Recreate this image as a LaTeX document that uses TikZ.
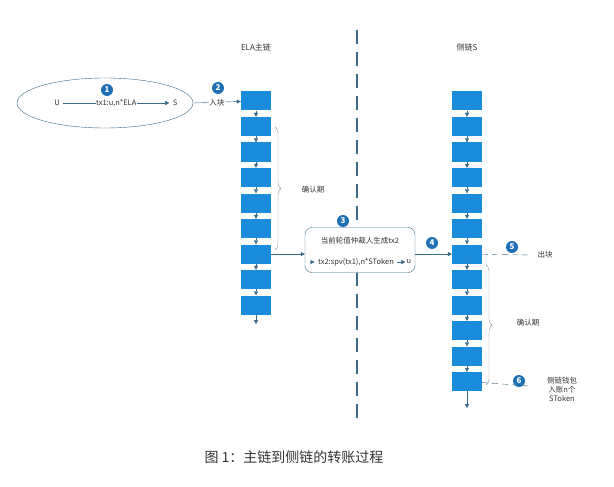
\documentclass[tikz,border=0pt]{standalone}
\usepackage{fontspec}
\setmainfont{Noto Sans CJK SC}
\usetikzlibrary{decorations.pathreplacing,arrows.meta}
\definecolor{blk}{HTML}{1B8BDB}
\definecolor{num}{HTML}{1F6FB5}
\definecolor{ln}{HTML}{3A6A8A}
\tikzset{x=1pt,y=-1pt,
 bk/.style={fill=blk,minimum width=30pt,minimum height=19pt,inner sep=0},
 nb/.style={circle,fill=num,text=white,inner sep=0,minimum size=12pt,font=\fontsize{8}{8}\selectfont\bfseries},
 lab/.style={font=\fontsize{7.5}{9}\selectfont,text=black!80,align=center},
 ar/.style={draw=ln,-{Triangle[length=4pt,width=4pt]}},
 dl/.style={draw=ln,dashed,dash pattern=on 6pt off 4pt}}
\begin{document}
\begin{tikzpicture}
\useasboundingbox (0,0) rectangle (614,487);
\fill[white] (0,0) rectangle (614,487);
\draw[ln,line width=1.2pt,dash pattern=on 14pt off 8pt] (357,30) -- (357,420);
\node[lab,font=\fontsize{8}{8}\selectfont] (t1) at (256,47) {ELA主链};
\node[lab,font=\fontsize{8}{8}\selectfont] (t2) at (467,47) {侧链S};
\foreach \i in {1,...,9}{\node[bk] (L\i) at (256,{101+25.5*(\i-1)}) {};}
\foreach \i [evaluate=\i as \j using int(\i+1)] in {1,...,8}{\draw[ar] (L\i) -- (L\j);}
\coordinate (Lend) at (256,324);
\draw[ar] (L9) -- (Lend);
\foreach \i in {1,...,12}{\node[bk] (R\i) at (467,{101+25.5*(\i-1)}) {};}
\foreach \i [evaluate=\i as \j using int(\i+1)] in {1,...,11}{\draw[ar] (R\i) -- (R\j);}
\coordinate (Rend) at (467,408);
\draw[ar] (R12) -- (Rend);
\draw[ln,thin] (105,103) ellipse (88 and 25);
\node[lab] (U) at (57,103) {U};
\node[lab] (S) at (175,103) {S};
\draw[ar] (U) -- node[lab,fill=white,inner sep=0.5pt]{tx1:u,n*ELA} (S);
\node[nb] (n1) at (107,90) {1};
\draw[ar] (193,103) -- node[lab,fill=white,inner sep=0.5pt]{入块} (L1);
\node[nb] (n2) at (218,88) {2};
\draw[black!40,decorate,decoration={brace,amplitude=6pt}] (275,127) -- (275,250);
\node[lab] (c1) at (313,190) {确认期};
\draw[black!40,decorate,decoration={brace,amplitude=6pt}] (486,265) -- (486,385);
\node[lab] (c2) at (528,323) {确认期};
\node[draw=ln,rounded corners=7pt,fill=white,minimum width=110pt,minimum height=45pt,lab] (box) at (360,250) {};
\node[lab] (bt) at (360,241) {当前轮值仲裁人生成tx2};
\coordinate (bl) at (310,262);
\node[lab] (bt2) at (356,262) {tx2:spv(tx1),n*SToken};
\draw[ar] (bl) -- (bt2.west);
\draw[ar] (bt2.east) -- ++(8,0) node[right,lab,inner sep=1pt]{u};
\node[nb] (n3) at (343,221) {3};
\draw[ar] (L7) -- (box.west |- L7);
\draw[ar] (box.east |- R7) -- (R7);
\node[nb] (n4) at (432,243) {4};
\coordinate (d5) at (530,255);
\draw[dl] (R7) -- (d5);
\node[lab] (o5) at (545,255) {出块};
\node[nb] (n5) at (512,247) {5};
\coordinate (d6) at (530,386);
\draw[dl] (R12) -- (d6);
\node[lab] (o6) at (562,389) {侧链钱包\\入账n个\\SToken};
\node[nb] (n6) at (519,381) {6};
\node[font=\fontsize{14}{15}\selectfont,text=black!80] (cap) at (294,457) {图 1：主链到侧链的转账过程};
\end{tikzpicture}
\end{document}
